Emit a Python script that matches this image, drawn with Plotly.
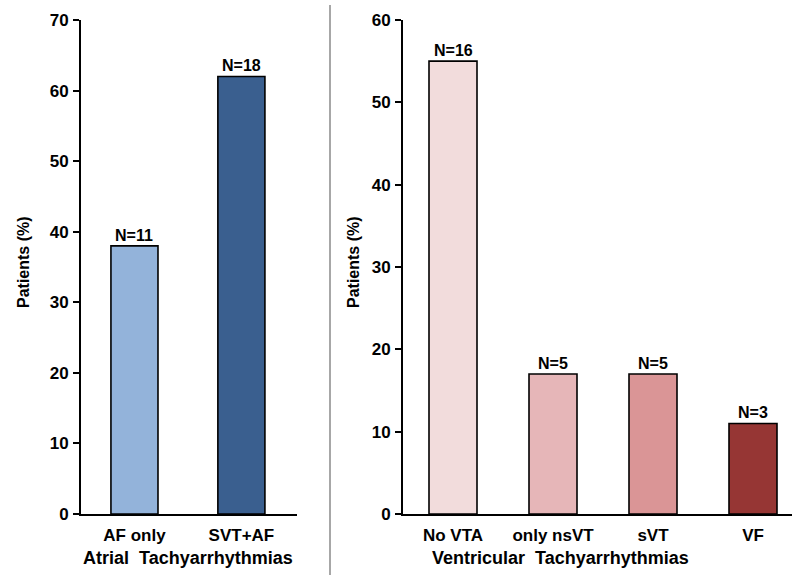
import plotly.graph_objects as go

atrial_cats = ["AF only", "SVT+AF"]
atrial_vals = [38, 62]
atrial_n = ["N=11", "N=18"]
atrial_colors = ["#93B3DA", "#3A5F8F"]

vent_cats = ["No VTA", "only nsVT", "sVT", "VF"]
vent_vals = [55, 17, 17, 11]
vent_n = ["N=16", "N=5", "N=5", "N=3"]
vent_colors = ["#F2DCDC", "#E6B6B8", "#DA9596", "#963634"]

FONT = "Liberation Sans, Arial, sans-serif"
W, H = 792, 575

fig = go.Figure()
fig.add_trace(go.Bar(x=atrial_cats, y=atrial_vals, width=0.44,
                     marker=dict(color=atrial_colors, line=dict(color="black", width=1.6)),
                     xaxis="x", yaxis="y", showlegend=False, hoverinfo="skip"))
fig.add_trace(go.Bar(x=vent_cats, y=vent_vals, width=0.48,
                     marker=dict(color=vent_colors, line=dict(color="black", width=1.6)),
                     xaxis="x2", yaxis="y2", showlegend=False, hoverinfo="skip"))

nfont = dict(size=16, color="black", family=FONT, weight="bold")
ann = []
for c, v, n in zip(atrial_cats, atrial_vals, atrial_n):
    ann.append(dict(x=c, y=v, text=n, xref="x", yref="y", showarrow=False,
                    yanchor="bottom", yshift=0, font=nfont))
for c, v, n in zip(vent_cats, vent_vals, vent_n):
    ann.append(dict(x=c, y=v, text=n, xref="x2", yref="y2", showarrow=False,
                    yanchor="bottom", yshift=0, font=nfont))
tfont = dict(size=16, color="black", family=FONT, weight="bold")
ann.append(dict(x=23/W, y=1-262/H, xref="paper", yref="paper", text="Patients (%)",
                xanchor="center", yanchor="middle",
                textangle=-90, showarrow=False, font=tfont))
ann.append(dict(x=353/W, y=1-262/H, xref="paper", yref="paper", text="Patients (%)",
                xanchor="center", yanchor="middle",
                textangle=-90, showarrow=False, font=tfont))
ann.append(dict(x=188/W, y=1-558/H, xref="paper", yref="paper", text="Atrial  Tachyarrhythmias",
                xanchor="center", yanchor="middle",
                showarrow=False, font=dict(size=18, color="black", family=FONT, weight="bold")))
ann.append(dict(x=560/W, y=1-558/H, xref="paper", yref="paper", text="Ventricular  Tachyarrhythmias",
                xanchor="center", yanchor="middle",
                showarrow=False, font=dict(size=18, color="black", family=FONT, weight="bold")))

ydom = [1-514/H, 1-20/H]
tickf = dict(size=17, color="black", family=FONT, weight="bold")
yax = dict(showline=True, linecolor="black", linewidth=2, showgrid=False, zeroline=False,
           tickfont=tickf, ticks="outside", tickcolor="black", tickwidth=2, ticklen=6,
           automargin=False, ticklabelstandoff=1)
xax = dict(showline=True, linecolor="black", linewidth=2, showgrid=False, zeroline=False,
           ticks="", tickfont=tickf, ticklabelstandoff=5, automargin=False)

fig.update_layout(
    width=W, height=H, margin=dict(l=0, r=0, t=0, b=0, autoexpand=False),
    plot_bgcolor="white", paper_bgcolor="white",
    font=dict(family=FONT, color="black"),
    xaxis=dict(domain=[81/W, 297/W], range=[-0.5, 1.52], anchor="y", **xax),
    yaxis=dict(domain=ydom, range=[0, 70], dtick=10, anchor="x", **yax),
    xaxis2=dict(domain=[403/W, 1.0], range=[-0.5, 3.39], anchor="y2", **xax),
    yaxis2=dict(domain=ydom, range=[0, 60], dtick=10, anchor="x2", **yax),
    annotations=ann,
    shapes=[dict(type="line", xref="paper", yref="paper", x0=330/W, x1=330/W, y0=0, y1=1-5/H,
                 line=dict(color="#8a8a8a", width=1.5))],
)
fig.write_html("out.html", config={"displayModeBar": False},
               post_script="document.body.style.margin='0';document.body.style.overflow='hidden';")
